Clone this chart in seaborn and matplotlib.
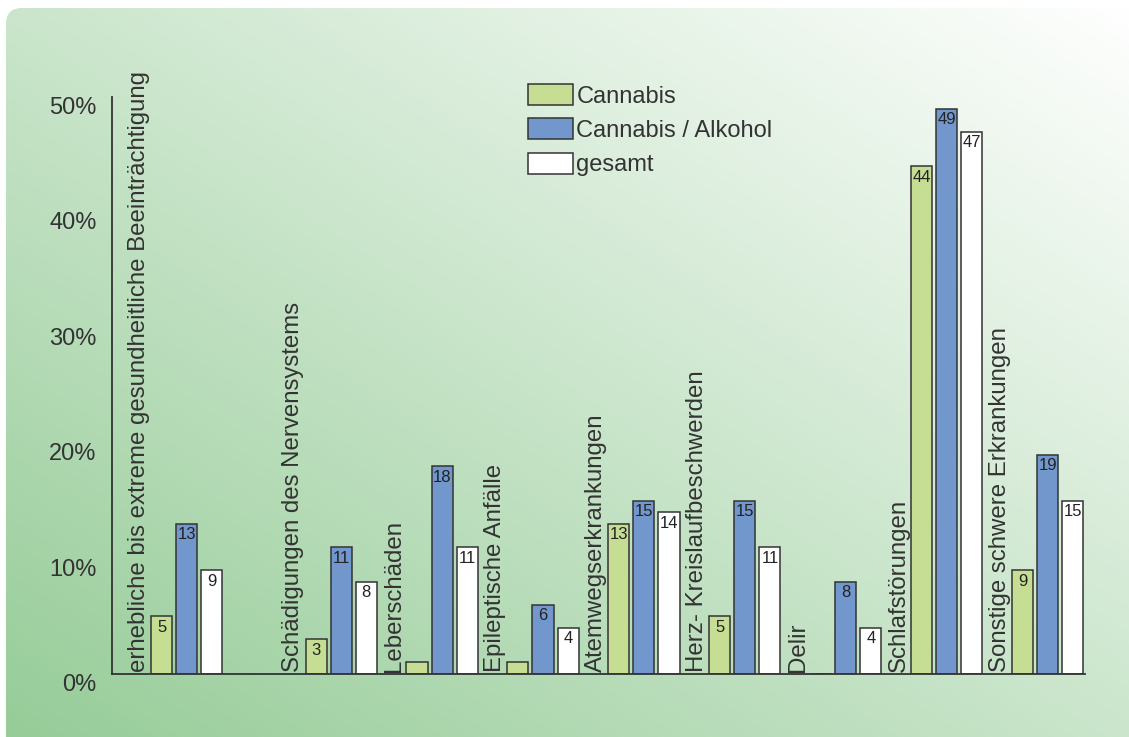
import numpy as np
import pandas as pd
import matplotlib
matplotlib.use("Agg")
import matplotlib.pyplot as plt
import seaborn as sns
from matplotlib.patches import FancyBboxPatch

categories = [
    "erhebliche bis extreme gesundheitliche Beeinträchtigung",
    "Schädigungen des Nervensystems",
    "Leberschäden",
    "Epileptische Anfälle",
    "Atemwegserkrankungen",
    "Herz- Kreislaufbeschwerden",
    "Delir",
    "Schlafstörungen",
    "Sonstige schwere Erkrankungen",
]
series = ["Cannabis", "Cannabis / Alkohol", "gesamt"]
cannabis = [5, 3, 1, 1, 13, 5, 0, 44, 9]
cannabis_alkohol = [13, 11, 18, 6, 15, 15, 8, 49, 19]
gesamt = [9, 8, 11, 4, 14, 11, 4, 47, 15]
yticks = [0, 10, 20, 30, 40, 50]
ytick_labels = ["0%", "10%", "20%", "30%", "40%", "50%"]

colors = ["#c6de93", "#7297cd", "#ffffff"]
text_col = "#333333"

# first group sits a bit further left than the rest
idx = np.arange(len(categories))
slot = idx + np.where(idx > 0, 0.53, 0.0)

df = pd.DataFrame({
    "pos": np.tile(slot, 3),
    "series": np.repeat(series, len(categories)),
    "value": cannabis + cannabis_alkohol + gesamt,
})

sns.set_theme(style="white")
plt.rcParams["font.family"] = ["Liberation Sans", "DejaVu Sans"]

W, H = 1129, 737
fig = plt.figure(figsize=(W / 100, H / 100), dpi=100)
fig.patch.set_facecolor("white")

# gradient panel, rounded on the left
bg = fig.add_axes([0, 0, 1, 1], zorder=-5)
bg.set_axis_off()
gx, gy = np.meshgrid(np.linspace(0, 1, 400), np.linspace(0, 1, 300))
t = np.clip((gx + gy) / 2, 0, 1)
c0 = np.array([150, 204, 152]) / 255
c1 = np.array([255, 255, 255]) / 255
img = c0[None, None, :] * (1 - t[..., None]) + c1[None, None, :] * t[..., None]
im = bg.imshow(img, origin="lower", extent=[0, W, 0, H], aspect="auto")
bg.set_xlim(0, W)
bg.set_ylim(0, H)
panel = FancyBboxPatch((6 + 16, -40), W + 40, H - 8 + 40 - 16,
                       boxstyle="round,pad=16", transform=bg.transData,
                       facecolor="none", edgecolor="none")
bg.add_patch(panel)
im.set_clip_path(panel)

ax = fig.add_axes([112 / W, 1 - 674 / H, 973 / W, 577 / H])
ax.set_facecolor("none")

sns.barplot(data=df, x="pos", y="value", hue="series", hue_order=series,
            palette=colors, saturation=1, native_scale=True, width=0.745,
            gap=0.16, edgecolor=text_col, linewidth=1.1, ax=ax, errorbar=None)

ax.set_xlim(-0.74, 8.9)
ax.set_ylim(0, 50)
ax.set_xticks([])
ax.set_yticks(yticks)
ax.set_yticklabels(ytick_labels, fontsize=17, color=text_col)
for lbl in ax.get_yticklabels():
    lbl.set_va("top")
ax.tick_params(axis="y", length=0, pad=11)
ax.set_xlabel("")
ax.set_ylabel("")
for s in ["top", "right"]:
    ax.spines[s].set_visible(False)
for s in ["left", "bottom"]:
    ax.spines[s].set_color(text_col)
    ax.spines[s].set_linewidth(1.3)

# value labels inside the bar tops
for cont in ax.containers:
    for bar in cont:
        h = bar.get_height()
        if h >= 3:
            ax.text(bar.get_x() + bar.get_width() / 2, h - 0.3, f"{h:g}",
                    ha="center", va="top", fontsize=12, color="#222222")

# rotated category names left of each group
bar_w = 0.745 / 3
for p, name in zip(slot, categories):
    ax.text(p - bar_w - 0.225, 0.2, name, rotation=90, ha="center",
            va="bottom", fontsize=17.3, color=text_col, clip_on=False)

handles, labels = ax.get_legend_handles_labels()
leg = ax.legend(handles, labels, loc="upper left", frameon=False,
                bbox_to_anchor=(528 / W, 1 - 84 / H),
                bbox_transform=fig.transFigure, fontsize=17,
                handlelength=1.9, handleheight=1.0, handletextpad=0.15,
                labelspacing=0.45, borderpad=0, borderaxespad=0)
for txt in leg.get_texts():
    txt.set_color(text_col)

fig.savefig("out.png", dpi=100)
